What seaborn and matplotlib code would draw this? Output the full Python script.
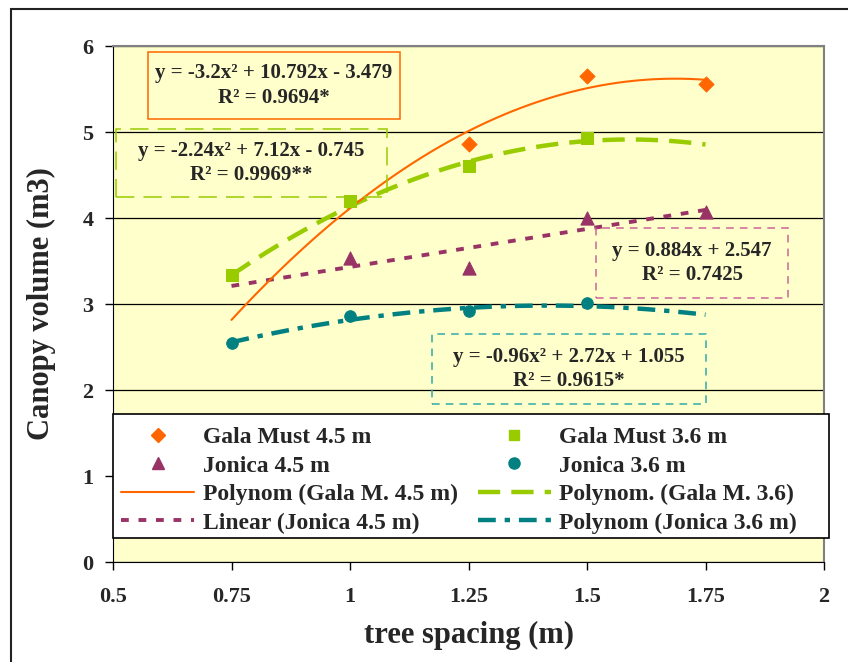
import numpy as np
import pandas as pd
import matplotlib.pyplot as plt
import matplotlib.patches as mpatches
from matplotlib.lines import Line2D
import seaborn as sns

# observed points (tree spacing in m, canopy volume in m3)
gala45_x = [1.25, 1.5, 1.75]
gala45_y = [4.86, 5.65, 5.56]
gala36_x = [0.75, 1.0, 1.25, 1.5]
gala36_y = [3.34, 4.20, 4.60, 4.93]
jon45_x = [1.0, 1.25, 1.5, 1.75]
jon45_y = [3.53, 3.42, 4.00, 4.07]
jon36_x = [0.75, 1.0, 1.25, 1.5]
jon36_y = [2.55, 2.86, 2.92, 3.01]

# trendline coefficients as printed on the chart
gala45_coef = [-3.2, 10.792, -3.479]
gala36_coef = [-2.24, 7.12, -0.745]
jon45_coef = [0.884, 2.547]
jon36_coef = [-0.96, 2.72, 1.055]
trend_range = [0.75, 1.75]

eq_texts = [
    "y = -3.2x² + 10.792x - 3.479\nR² = 0.9694*",
    "y = -2.24x² + 7.12x - 0.745\nR² = 0.9969**",
    "y = 0.884x + 2.547\nR² = 0.7425",
    "y = -0.96x² + 2.72x + 1.055\nR² = 0.9615*",
]

ORANGE = "#FF6600"
GREEN = "#99CC00"
PURPLE = "#993366"
TEAL = "#008080"

sns.set_style("white")
plt.rcParams["font.family"] = ["Liberation Serif", "DejaVu Serif"]
plt.rcParams["font.weight"] = "bold"

fig = plt.figure(figsize=(8.48, 6.62), dpi=100)
W, H = 848, 662
ax = fig.add_axes([113 / W, 1 - 562 / H, 711 / W, 516 / H])
ax.set_facecolor("#FFFFCC")

# outer chart border
fig.add_artist(mpatches.Rectangle((11 / W, -0.5), 2, 1.5 - 9 / H, transform=fig.transFigure,
                                  fill=False, edgecolor="#222222", linewidth=1.5))

xs = np.linspace(trend_range[0], trend_range[1], 60)
trend = pd.DataFrame({
    "x": xs,
    "g45": np.polyval(gala45_coef, xs),
    "g36": np.polyval(gala36_coef, xs),
    "j45": np.polyval(jon45_coef, xs),
    "j36": np.polyval(jon36_coef, xs),
})

sns.lineplot(data=trend, x="x", y="g36", ax=ax, color=GREEN, linewidth=3.2,
             zorder=2).lines[-1].set_dashes([5, 2.5])
sns.lineplot(data=trend, x="x", y="j45", ax=ax, color=PURPLE, linewidth=2.8,
             zorder=2).lines[-1].set_dashes([2, 2.5])
sns.lineplot(data=trend, x="x", y="j36", ax=ax, color=TEAL, linewidth=3.2,
             zorder=2).lines[-1].set_dashes([4, 2, 1.2, 2])
sns.lineplot(data=trend, x="x", y="g45", ax=ax, color=ORANGE, linewidth=1.5, zorder=3)

sns.scatterplot(x=gala45_x, y=gala45_y, ax=ax, marker="D", s=60, color=ORANGE,
                edgecolor=ORANGE, zorder=4)
sns.scatterplot(x=gala36_x, y=gala36_y, ax=ax, marker="s", s=85, color=GREEN,
                edgecolor=GREEN, zorder=4)
sns.scatterplot(x=jon45_x, y=jon45_y, ax=ax, marker="^", s=90, color=PURPLE,
                edgecolor=PURPLE, zorder=4)
sns.scatterplot(x=jon36_x, y=jon36_y, ax=ax, marker="o", s=70, color=TEAL,
                edgecolor=TEAL, zorder=4)

ax.set_xlim(0.5, 2)
ax.set_ylim(0, 6)
ax.set_xticks(np.arange(0.5, 2.01, 0.25))
ax.set_xticklabels(["0.5", "0.75", "1", "1.25", "1.5", "1.75", "2"])
ax.set_yticks(range(7))
ax.yaxis.grid(True, color="black", linewidth=0.9)
ax.set_axisbelow(True)
ax.tick_params(axis="both", direction="out", length=6, width=1, color="black",
               labelsize=16, bottom=True, left=True)
ax.tick_params(axis="x", pad=12)
ax.tick_params(axis="y", pad=8)
for lab in ax.get_xticklabels() + ax.get_yticklabels():
    lab.set_fontweight("bold")
for side in ["left", "bottom"]:
    ax.spines[side].set_color("black")
for side in ["right", "top"]:
    ax.spines[side].set_color("#808080")
    ax.spines[side].set_linewidth(1.5)

ax.set_xlabel("tree spacing (m)", fontsize=22, fontweight="bold", labelpad=10)
ax.set_ylabel("Canopy volume (m3)", fontsize=22, fontweight="bold", labelpad=19)

# equation boxes (pixel rectangles, top-left origin)
boxes = [
    (148, 52, 400, 119, ORANGE, (0, ())),
    (116, 129, 387, 197, GREEN, (0, (12, 6))),
    (596, 228, 788, 298, "#CC6699", (0, (5, 4))),
    (432, 334, 706, 404, "#33AAAA", (0, (5, 4))),
]
for (x0, y0, x1, y1, col, ls), txt in zip(boxes, eq_texts):
    fig.add_artist(mpatches.Rectangle((x0 / W, 1 - y1 / H), (x1 - x0) / W, (y1 - y0) / H,
                                      transform=fig.transFigure, fill=False,
                                      edgecolor=col, linewidth=1.1, linestyle=ls, zorder=5))
    fig.text((x0 + x1) / 2 / W, 1 - (y0 + y1) / 2 / H, txt, ha="center", va="center",
             fontsize=15, fontweight="bold", linespacing=1.3, zorder=6)

handles = [
    Line2D([], [], linestyle="none", marker="D", color=ORANGE, markersize=7),
    Line2D([], [], linestyle="none", marker="^", color=PURPLE, markersize=9),
    Line2D([], [], color=ORANGE, linewidth=1.5),
    Line2D([], [], color=PURPLE, linewidth=2.8, dashes=[2, 2.5]),
    Line2D([], [], linestyle="none", marker="s", color=GREEN, markersize=7),
    Line2D([], [], linestyle="none", marker="o", color=TEAL, markersize=8),
    Line2D([], [], color=GREEN, linewidth=3.2, dashes=[5, 2.5]),
    Line2D([], [], color=TEAL, linewidth=3.2, dashes=[4, 2, 1.2, 2]),
]
labels = ["Gala Must 4.5 m", "Jonica 4.5 m", "Polynom (Gala M. 4.5 m)",
          "Linear (Jonica 4.5 m)", "Gala Must 3.6 m", "Jonica 3.6 m",
          "Polynom. (Gala M. 3.6)", "Polynom (Jonica 3.6 m)"]

# legend frame drawn as its own box so it can be wider than the entries
ax.add_patch(mpatches.Rectangle((113 / W, 1 - 538 / H), 716 / W, 124 / H,
                                transform=fig.transFigure, facecolor="white",
                                edgecolor="black", linewidth=1.2, zorder=6,
                                clip_on=False))
leg = ax.legend(handles, labels, ncol=2, loc="lower left",
                bbox_to_anchor=(0, 20 / 516), frameon=False,
                prop={"size": 17, "weight": "bold"}, handlelength=3.1,
                labelspacing=0.3, borderaxespad=0, borderpad=0.35,
                columnspacing=0.85, handletextpad=0.35)
leg.set_zorder(7)

fig.savefig("out.png", dpi=100)
